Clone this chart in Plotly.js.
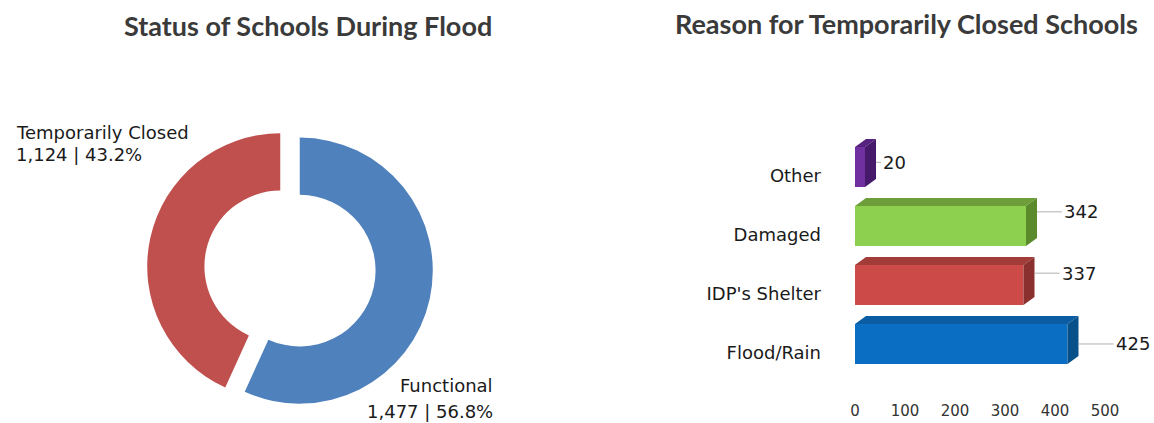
<!DOCTYPE html>
<html><head><meta charset="utf-8">
<script src="https://cdn.plot.ly/plotly-3.0.1.min.js"></script>
<style>html,body{margin:0;padding:0;background:#fff}#chart{width:1154px;height:423px}</style>
</head><body><div id="chart"></div>
<script>
// ---- data ----
const statusLabels = ['Functional', 'Temporarily Closed'];
const statusValues = [1477, 1124];
const statusPercents = ['56.8%', '43.2%'];
const reasonCategories = ['Flood/Rain', "IDP's Shelter", 'Damaged', 'Other'];
const reasonValues = [425, 337, 342, 20];
const xTickValues = [0, 100, 200, 300, 400, 500];
const leftTitle = 'Status of Schools During Flood';
const rightTitle = 'Reason for Temporarily Closed Schools';

// ---- style ----
const W = 1154, H = 423;
const px = x => x / W;
const py = y => 1 - y / H;
const statusColors = ['#4F81BD', '#C0504D'];
const frontColors = ['#0A6FC2', '#CC4B48', '#8DCF4F', '#7030A0'];
const topColors = ['#0B5DA3', '#A23C39', '#6E9E3A', '#55237F'];
const sideColors = ['#07508A', '#8A302E', '#5B8A2D', '#46196B'];
const txtFont = 'DejaVu Sans, Liberation Sans, sans-serif';
const titleFont = {family: 'Lato, Open Sans, sans-serif', size: 27, color: '#3a3a3a', weight: 700};
const half = 0.34, depthY = 0.136, depthX = 22;
const labelGap = [35, 25, 25, 5];
const labelRise = [0.0, 0.2, 0.24, 0.08];
const fmt = n => n.toLocaleString('en-US');

const traces = [];
traces.push({
  type: 'pie', labels: statusLabels, values: statusValues,
  marker: {colors: statusColors}, hole: 0.57, sort: false,
  direction: 'clockwise', rotation: 0, pull: [0.075, 0.075],
  textinfo: 'none', hoverinfo: 'label+value+percent', showlegend: false,
  domain: {x: [px(147), px(433)], y: [11.5 / H, 297.5 / H]}
});
traces.push({
  type: 'bar', orientation: 'h', x: reasonValues, y: reasonCategories.map((c, i) => i),
  width: half * 2, marker: {color: frontColors}, showlegend: false, hoverinfo: 'x',
  xaxis: 'x', yaxis: 'y'
});
reasonValues.forEach((v, i) => {
  const a = i - half, b = i + half;
  traces.push({type: 'scatter', mode: 'lines', fill: 'toself', fillcolor: topColors[i],
    line: {width: 0, color: topColors[i]}, hoverinfo: 'skip', showlegend: false,
    x: [0, v, v + depthX, depthX, 0], y: [b, b, b + depthY, b + depthY, b]});
  traces.push({type: 'scatter', mode: 'lines', fill: 'toself', fillcolor: sideColors[i],
    line: {width: 0, color: sideColors[i]}, hoverinfo: 'skip', showlegend: false,
    x: [v, v + depthX, v + depthX, v, v], y: [a, a + depthY, b + depthY, b, a]});
});

const annotations = [
  {text: leftTitle, xref: 'paper', yref: 'paper', x: px(308), y: py(26), xanchor: 'center', yanchor: 'middle', showarrow: false, font: titleFont},
  {text: rightTitle, xref: 'paper', yref: 'paper', x: px(906), y: py(24), xanchor: 'center', yanchor: 'middle', showarrow: false, font: titleFont},
  {text: statusLabels[1], xref: 'paper', yref: 'paper', x: px(14), y: py(132), xanchor: 'left', yanchor: 'middle', showarrow: false, font: {family: txtFont, size: 18, color: '#1a1a1a'}},
  {text: fmt(statusValues[1]) + ' | ' + statusPercents[1], xref: 'paper', yref: 'paper', x: px(14), y: py(154), xanchor: 'left', yanchor: 'middle', showarrow: false, font: {family: txtFont, size: 18, color: '#1a1a1a'}},
  {text: statusLabels[0], xref: 'paper', yref: 'paper', x: px(495), y: py(385), xanchor: 'right', yanchor: 'middle', showarrow: false, font: {family: txtFont, size: 18, color: '#1a1a1a'}},
  {text: fmt(statusValues[0]) + ' | ' + statusPercents[0], xref: 'paper', yref: 'paper', x: px(495), y: py(411), xanchor: 'right', yanchor: 'middle', showarrow: false, font: {family: txtFont, size: 18, color: '#1a1a1a'}}
];
reasonValues.forEach((v, i) => {
  annotations.push({text: String(v), xref: 'x', yref: 'y', x: v + depthX, y: i + labelRise[i],
    showarrow: true, arrowhead: 0, arrowwidth: 1, arrowcolor: '#b0b0b0', ax: labelGap[i], ay: 0,
    xanchor: 'left', yanchor: 'middle', standoff: 0, startstandoff: 0,
    font: {family: txtFont, size: 18, color: '#1a1a1a'}});
});

const layout = {
  width: W, height: H, margin: {l: 0, r: 0, t: 0, b: 0},
  paper_bgcolor: '#ffffff', plot_bgcolor: 'rgba(0,0,0,0)', showlegend: false,
  xaxis: {domain: [px(822), 1], range: [-66, 598], tickvals: xTickValues,
    showgrid: false, zeroline: false, showline: false, ticks: '',
    tickfont: {family: txtFont, size: 15, color: '#333'}},
  yaxis: {domain: [23 / H, 291.4 / H], range: [-0.95, 3.6],
    tickvals: reasonCategories.map((c, i) => i - 0.14), ticktext: reasonCategories,
    showgrid: false, zeroline: false, showline: false, ticks: '',
    tickfont: {family: txtFont, size: 18, color: '#1a1a1a'}},
  annotations: annotations
};
Plotly.newPlot('chart', traces, layout, {displayModeBar: false, staticPlot: true});
</script></body></html>
